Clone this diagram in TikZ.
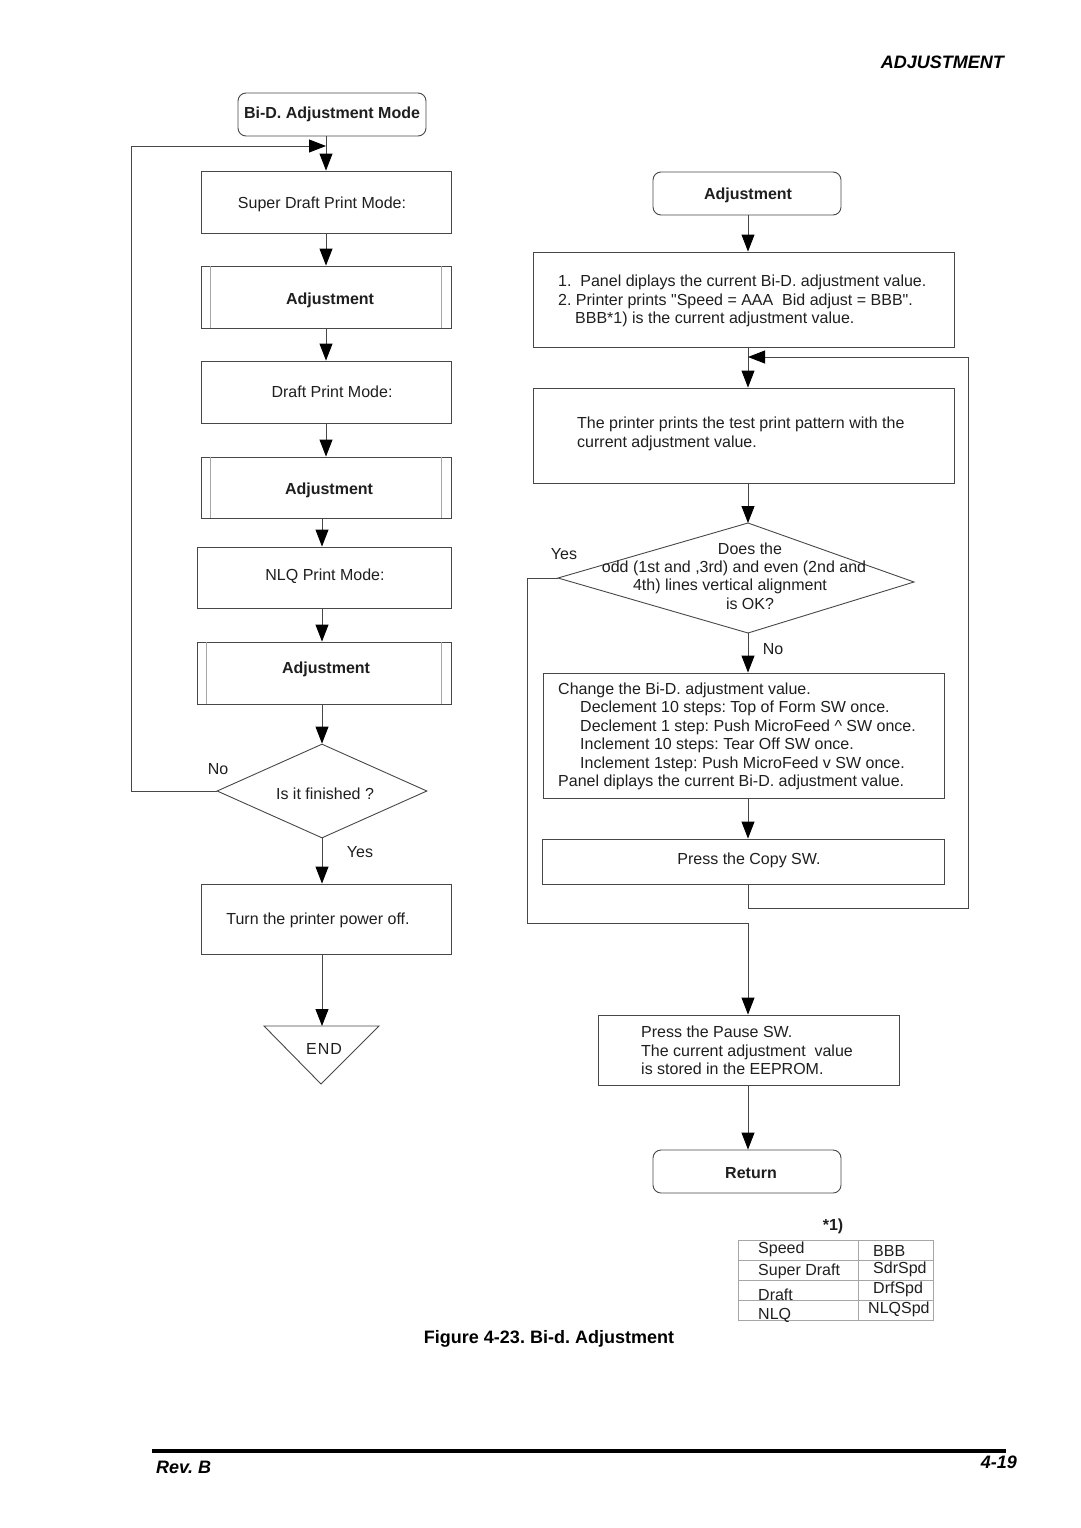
\documentclass[tikz,border=0pt]{standalone}
\usepackage{fontspec}
\setmainfont{Liberation Sans}[Ligatures=TeXOff]
\usetikzlibrary{arrows.meta,shapes.geometric}
\frenchspacing
\begin{document}
\begin{tikzpicture}[x=1pt,y=-1pt,
  lc/.style={draw=black!72, line width=0.9pt},
  txt/.style={font=\fontsize{16}{18.5}\selectfont, text=black!88, inner sep=0pt},
  boxnode/.style={lc, txt, rectangle},
  rbox/.style={boxnode, rounded corners=8pt, font=\bfseries\fontsize{16}{18}\selectfont},
  pbox/.style={boxnode, font=\bfseries\fontsize{16}{18}\selectfont},
  inner/.style={draw=black!35, line width=0.7pt},
  arr/.style={lc, -{Triangle[width=13pt,length=17pt,color=black]}},
  lbl/.style={txt},
  hdr/.style={font=\bfseries\itshape\fontsize{18}{20}\selectfont, inner sep=0pt},
  tbl/.style={draw=black!35, line width=0.7pt}
]
\fill[white] (0,0) rectangle (1080,1528);
\useasboundingbox (0,0) rectangle (1080,1528);

% header
\node[hdr, anchor=east] (head) at (1004,62) {ADJUSTMENT};

% ---------------- left column ----------------
\node[rbox, minimum width=188pt, minimum height=43pt] (start) at (332,114.5) {Bi-D. Adjustment Mode};
\node[boxnode, minimum width=250pt, minimum height=62pt] (sd) at (326,202) {};
\node[txt] (sdt) at (322,204) {Super Draft Print Mode:};
\node[pbox, minimum width=250pt, minimum height=62pt] (adj1) at (326,297) {};
\node[txt, font=\bfseries\fontsize{16}{18}\selectfont] (adj1t) at (330,300) {Adjustment};
\node[boxnode, minimum width=250pt, minimum height=62pt] (dr) at (326,392) {};
\node[txt] (drt) at (332,392) {Draft Print Mode:};
\node[pbox, minimum width=250pt, minimum height=61pt] (adj2) at (326,487.5) {};
\node[txt, font=\bfseries\fontsize{16}{18}\selectfont] (adj2t) at (329,490) {Adjustment};
\node[boxnode, minimum width=254pt, minimum height=61pt] (nlq) at (324,577.5) {};
\node[txt] (nlqt) at (325,576) {NLQ Print Mode:};
\node[pbox, minimum width=254pt, minimum height=62pt] (adj3) at (324,673) {};
\node[txt, font=\bfseries\fontsize{16}{18}\selectfont] (adj3t) at (326,669) {Adjustment};
\node[lc, diamond, minimum width=210pt, minimum height=94pt, inner sep=0pt] (dia1) at (322,791) {};
\node[txt] (dia1t) at (325,794) {Is it finished ?};
\node[boxnode, minimum width=250pt, minimum height=70pt] (off) at (326,919) {};
\node[txt] (offt) at (318,920) {Turn the printer power off.};
\coordinate (endtl) at (264,1026);
\coordinate (endtr) at (379,1026);
\coordinate (endb) at (321,1084);
\coordinate (endtop) at (322,1026);
\draw[lc] (endtl) -- (endtr) -- (endb) -- cycle;
\node[txt] (endt) at (324,1049) {E\kern1pt N\kern1pt D};

% predefined-process inner lines
\foreach \n in {adj1,adj2,adj3}{
  \draw[inner] ([xshift=10pt]\n.north west) -- ([xshift=10pt]\n.south west);
  \draw[inner] ([xshift=-10pt]\n.north east) -- ([xshift=-10pt]\n.south east);
}

% left connectors
\coordinate (lmerge) at (326,146);
\coordinate (lloop) at (131,146);
\draw[arr] (sd.north |- start.south) -- (sd.north);
\draw[arr] (dia1.west) -| (lloop) -- (lmerge);
\draw[arr] (sd.south) -- (adj1.north);
\draw[arr] (adj1.south) -- (dr.north);
\draw[arr] (dr.south) -- (adj2.north);
\draw[arr] (adj2.south -| dia1.north) -- (nlq.north -| dia1.north);
\draw[arr] (nlq.south -| dia1.north) -- (adj3.north -| dia1.north);
\draw[arr] (adj3.south -| dia1.north) -- (dia1.north);
\draw[arr] (dia1.south) -- (off.north -| dia1.south);
\draw[arr] (off.south -| dia1.south) -- (endtop);
\node[lbl] (lno) at (218,769) {No};
\node[lbl] (lyes) at (360,852) {Yes};

% ---------------- right column ----------------
\node[rbox, minimum width=188pt, minimum height=43pt] (adjR) at (747,193.5) {};
\node[txt, font=\bfseries\fontsize{16}{18}\selectfont] (adjRt) at (748,195) {Adjustment};
\node[boxnode, minimum width=421pt, minimum height=95pt] (b1) at (743.5,299.5) {};
\node[txt, anchor=west, align=left] (b1t) at (558,301) {1.\ \ Panel diplays the current Bi-D. adjustment value.\\2. Printer prints "Speed = AAA\ \ Bid adjust = BBB".\\\hspace*{17pt}BBB*1) is the current adjustment value.};
\node[boxnode, minimum width=421pt, minimum height=95pt] (b2) at (743.5,435.5) {};
\node[txt, anchor=west, align=left] (b2t) at (577,434) {The printer prints the test print pattern with the\\current adjustment value.};
\coordinate (d2t) at (748,523);
\coordinate (d2r) at (914,582);
\coordinate (d2b) at (748,633);
\coordinate (d2l) at (558,578);
\draw[lc] (d2t) -- (d2r) -- (d2b) -- (d2l) -- cycle;
\node[txt] (d2a) at (750,549) {Does the};
\node[txt] (d2c) at (734,568) {odd (1st and ,3rd) and even (2nd and};
\node[txt] (d2d) at (730,586) {4th) lines vertical alignment};
\node[txt] (d2e) at (750,604) {is OK?};
\node[boxnode, minimum width=401pt, minimum height=125pt] (b3) at (743.5,735.5) {};
\node[txt, anchor=west, align=left] (b3t) at (558,736.5) {Change the Bi-D. adjustment value.\\
\hspace*{22pt}Declement 10 steps: Top of Form SW once.\\
\hspace*{22pt}Declement 1 step: Push MicroFeed \textasciicircum\ SW once.\\
\hspace*{22pt}Inclement 10 steps: Tear Off SW once.\\
\hspace*{22pt}Inclement 1step: Push MicroFeed v SW once.\\
Panel diplays the current Bi-D. adjustment value.};
\node[boxnode, minimum width=402pt, minimum height=45pt] (copy) at (743,861.5) {};
\node[txt] (copyt) at (749,860) {Press the Copy SW.};
\node[boxnode, minimum width=301pt, minimum height=70pt] (pause) at (748.5,1050) {};
\node[txt, anchor=west, align=left] (pauset) at (641,1050.5) {Press the Pause SW.\\The current adjustment\ \ value\\is stored in the EEPROM.};
\node[rbox, minimum width=188pt, minimum height=43pt] (ret) at (747,1171.5) {};
\node[txt, font=\bfseries\fontsize{16}{18}\selectfont] (rett) at (751,1173) {Return};

% right connectors
\coordinate (merge) at (748,357);
\coordinate (rloop) at (968,908);
\coordinate (ycorner) at (527,923);
\draw[arr] (adjR.south -| merge) -- (b1.north -| merge);
\draw[arr] (b1.south -| merge) -- (b2.north -| merge);
\draw[arr] (copy.south -| merge) |- (rloop) |- (merge);
\draw[arr] (b2.south -| merge) -- (d2t);
\draw[arr] (d2b) -- (b3.north -| merge);
\draw[arr] (b3.south -| merge) -- (copy.north -| merge);
\draw[arr] (d2l) -| (ycorner) -| (pause.north -| merge);
\draw[arr] (pause.south -| merge) -- (ret.north -| merge);
\node[lbl] (ryes) at (564,554) {Yes};
\node[lbl] (rno) at (773,649) {No};

% ---------------- table ----------------
\node[txt, font=\bfseries\fontsize{16}{18}\selectfont] (note) at (833,1226) {*1)};
\draw[tbl] (738,1240) rectangle (933,1320);
\draw[tbl] (738,1260) -- (933,1260);
\draw[tbl] (738,1280) -- (933,1280);
\draw[tbl] (738,1300) -- (933,1300);
\draw[tbl] (858,1240) -- (858,1320);
\node[txt, anchor=west] (t1a) at (758,1249) {Speed};
\node[txt, anchor=west] (t2a) at (758,1271) {Super Draft};
\node[txt, anchor=west] (t3a) at (758,1295) {Draft};
\node[txt, anchor=west] (t4a) at (758,1315) {NLQ};
\node[txt, anchor=west] (t1b) at (873,1251) {BBB};
\node[txt, anchor=west] (t2b) at (873,1269) {SdrSpd};
\node[txt, anchor=west] (t3b) at (873,1289) {DrfSpd};
\node[txt, anchor=west] (t4b) at (868,1309) {NLQSpd};

% caption
\node[font=\bfseries\fontsize{18}{20}\selectfont, inner sep=0pt] (cap) at (549,1339) {Figure 4-23. Bi-d. Adjustment};

% footer
\draw[line width=3.5pt] (152,1451) -- (1006,1451);
\node[hdr, anchor=west] (rev) at (156,1467) {Rev. B};
\node[hdr, anchor=east] (pg) at (1017,1462) {4-19};
\end{tikzpicture}
\end{document}
